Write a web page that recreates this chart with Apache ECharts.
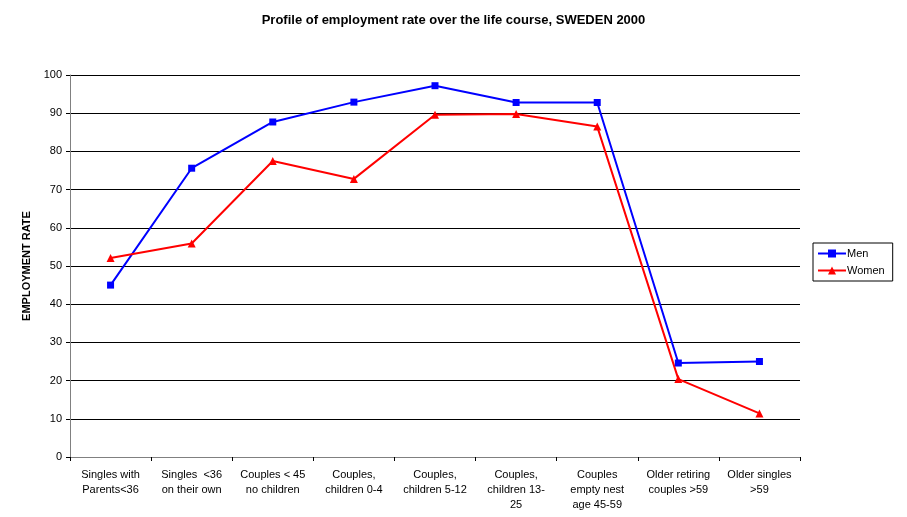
<!DOCTYPE html>
<html>
<head>
<meta charset="utf-8">
<script src="https://cdn.jsdelivr.net/npm/echarts@6/dist/echarts.min.js"></script>
<style>
  html, body { margin: 0; padding: 0; background: #fff; }
  #chart { width: 907px; height: 517px; }
</style>
</head>
<body>
<div id="chart"></div>
<script>
// life-course stages (x axis)
const stages = [
  'Singles with\nParents<36',
  'Singles  <36\non their own',
  'Couples < 45\nno children',
  'Couples,\nchildren 0-4',
  'Couples,\nchildren 5-12',
  'Couples,\nchildren 13-\n25',
  'Couples\nempty nest\nage 45-59',
  'Older retiring\ncouples >59',
  'Older singles\n>59'
]
const men = [45.0, 75.6, 87.7, 92.9, 97.2, 92.8, 92.8, 24.6, 25.0]
const women = [52.1, 55.9, 77.5, 72.8, 89.6, 89.8, 86.5, 20.4, 11.4]

const font = 'Liberation Sans, Arial, sans-serif'
const chart = echarts.init(document.getElementById('chart'))

chart.setOption({
  backgroundColor: '#fff',
  animation: false,
  textStyle: { fontFamily: font },
  title: {
    text: 'Profile of employment rate over the life course, SWEDEN 2000',
    left: 'center',
    top: 9,
    textStyle: { fontSize: 13, fontWeight: 'bold', color: '#000', fontFamily: font }
  },
  legend: {
    orient: 'vertical',
    left: 813,
    top: 243,
    padding: [5, 8, 5, 4],
    itemGap: 6,
    itemWidth: 28,
    itemHeight: 10,
    borderColor: '#000',
    borderWidth: 1,
    borderRadius: 0,
    textStyle: { fontSize: 11, color: '#000', fontFamily: font, padding: [0, 0, 0, -4] },
    data: ['Men', 'Women']
  },
  grid: { left: 70, right: 107, top: 75, bottom: 60 },
  xAxis: {
    type: 'category',
    data: stages,
    boundaryGap: true,
    axisLine: { lineStyle: { color: '#808080', width: 1 } },
    axisTick: { show: true, length: 4, lineStyle: { color: '#000' } },
    axisLabel: { color: '#000', fontSize: 11, lineHeight: 15, margin: 10, interval: 0, fontFamily: font }
  },
  yAxis: {
    type: 'value',
    min: 0,
    max: 100,
    interval: 10,
    name: 'EMPLOYMENT RATE',
    nameLocation: 'middle',
    nameGap: 36,
    nameTextStyle: { fontSize: 11, fontWeight: 'bold', color: '#000', fontFamily: font },
    axisLine: { show: true, lineStyle: { color: '#808080', width: 1 } },
    axisTick: { show: true, length: 4, lineStyle: { color: '#000' } },
    axisLabel: { color: '#000', fontSize: 11, margin: 8, fontFamily: font },
    splitLine: { show: true, lineStyle: { color: '#000', width: 1 } }
  },
  series: [
    {
      name: 'Men',
      type: 'line',
      data: men,
      symbol: 'rect',
      symbolSize: 7,
      lineStyle: { color: '#0000ff', width: 2 },
      itemStyle: { color: '#0000ff' }
    },
    {
      name: 'Women',
      type: 'line',
      data: women,
      symbol: 'triangle',
      symbolSize: 8,
      lineStyle: { color: '#ff0000', width: 2 },
      itemStyle: { color: '#ff0000' }
    }
  ]
})
</script>
</body>
</html>
